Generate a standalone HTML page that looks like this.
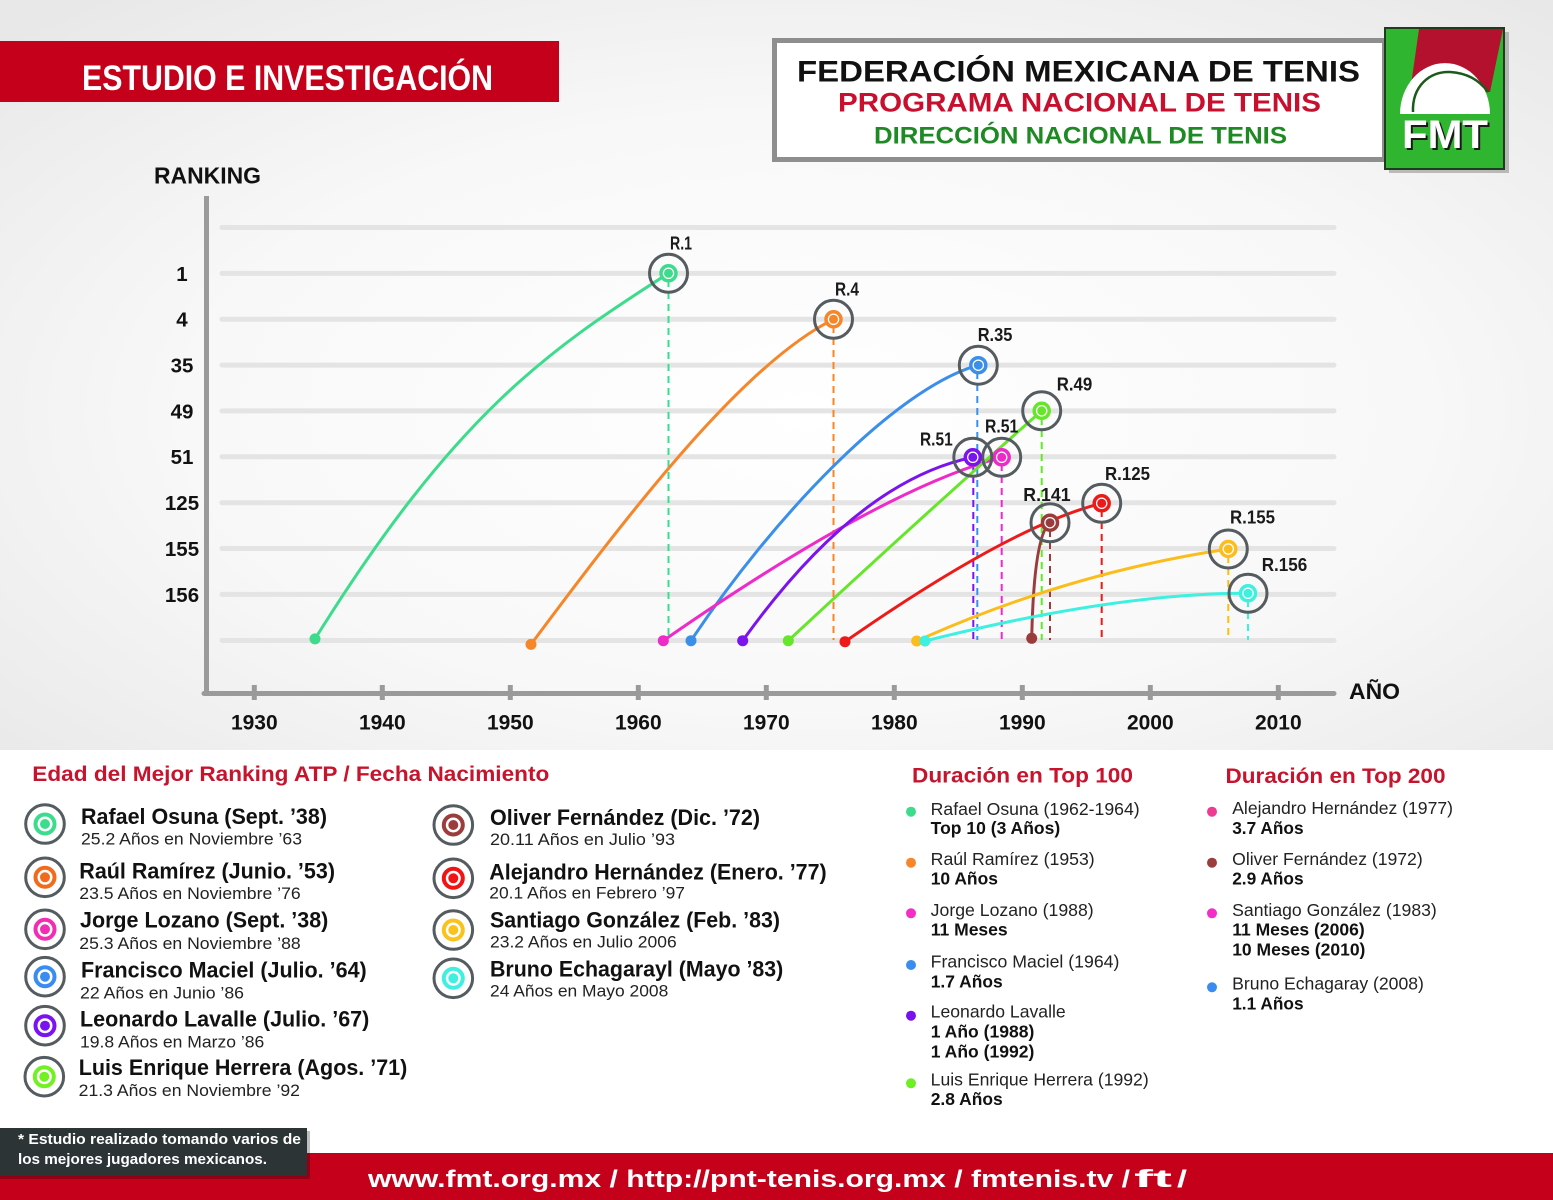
<!DOCTYPE html>
<html><head><meta charset="utf-8"><style>
html,body{margin:0;padding:0;background:#fff;}
svg{display:block;}
text{font-family:"Liberation Sans",Arial,sans-serif;}
</style></head><body>
<svg width="1553" height="1200" viewBox="0 0 1553 1200" xmlns="http://www.w3.org/2000/svg">
<defs>
<radialGradient id="bg" cx="0.52" cy="0.55" r="0.72">
<stop offset="0" stop-color="#ffffff"/>
<stop offset="0.55" stop-color="#f8f8f8"/>
<stop offset="1" stop-color="#e8e8e8"/>
</radialGradient>
</defs>
<rect x="0" y="0" width="1553" height="1200" fill="#ffffff"/>
<rect x="0" y="0" width="1553" height="750" fill="url(#bg)"/>

<!-- top-left red banner -->
<rect x="0" y="41" width="559" height="61" fill="#c4001a"/>
<text x="82" y="90" font-size="35" font-weight="bold" fill="#fff" textLength="411" lengthAdjust="spacingAndGlyphs">ESTUDIO E INVESTIGACIÓN</text>

<!-- header box -->
<rect x="777" y="43" width="610" height="119" fill="#b5b5b5" opacity="0.5"/>
<rect x="774.5" y="40.5" width="610" height="119" fill="#fff" stroke="#8e8e8e" stroke-width="5"/>
<text x="797" y="81.7" font-size="30" font-weight="bold" fill="#111" textLength="563" lengthAdjust="spacingAndGlyphs">FEDERACIÓN MEXICANA DE TENIS</text>
<text x="838" y="111.7" font-size="26.5" font-weight="bold" fill="#c8102e" textLength="483" lengthAdjust="spacingAndGlyphs">PROGRAMA NACIONAL DE TENIS</text>
<text x="874" y="143.3" font-size="24" font-weight="bold" fill="#1e8a23" textLength="413" lengthAdjust="spacingAndGlyphs">DIRECCIÓN NACIONAL DE TENIS</text>

<!-- logo -->
<rect x="1389" y="32" width="120" height="141" fill="#8a8a8a" opacity="0.55"/>
<rect x="1385" y="28" width="119" height="141" fill="#2fb52f" stroke="#1d3d1d" stroke-width="2"/>
<polygon points="1419,29 1503,29 1490,92 1410,92" fill="#b3112e"/>
<path d="M1400,114 A45,51 0 0 1 1490,114 Z" fill="#fff"/>
<path d="M1413,112 C1412,86 1430,71 1450,72 C1468,73 1480,81 1488,92" fill="none" stroke="#1a5a1a" stroke-width="2.5"/>
<text x="1404" y="150" font-size="40" font-weight="bold" fill="#1a1a1a" textLength="86" lengthAdjust="spacingAndGlyphs">FMT</text>
<text x="1402" y="148" font-size="40" font-weight="bold" fill="#fff" textLength="86" lengthAdjust="spacingAndGlyphs">FMT</text>

<!-- chart titles -->
<text x="154" y="183.3" font-size="23" font-weight="bold" fill="#111" textLength="107" lengthAdjust="spacingAndGlyphs">RANKING</text>
<text x="1349" y="699" font-size="22" font-weight="bold" fill="#111" textLength="51" lengthAdjust="spacingAndGlyphs">AÑO</text>

<!-- gridlines -->
<g stroke="#e4e4e4" stroke-width="5" stroke-linecap="round">
<line x1="222" y1="227.5" x2="1334" y2="227.5"/>
<line x1="222" y1="273.4" x2="1334" y2="273.4"/>
<line x1="222" y1="319.2" x2="1334" y2="319.2"/>
<line x1="222" y1="365.1" x2="1334" y2="365.1"/>
<line x1="222" y1="410.9" x2="1334" y2="410.9"/>
<line x1="222" y1="456.8" x2="1334" y2="456.8"/>
<line x1="222" y1="502.7" x2="1334" y2="502.7"/>
<line x1="222" y1="548.5" x2="1334" y2="548.5"/>
<line x1="222" y1="594.4" x2="1334" y2="594.4"/>
<line x1="222" y1="640.5" x2="1334" y2="640.5"/>
</g>

<!-- axes -->
<g stroke="#9a9a9a" stroke-width="5">
<line x1="206.5" y1="196" x2="206.5" y2="695"/>
<line x1="204" y1="693.5" x2="1334" y2="693.5" stroke-linecap="round"/>
<line x1="254.3" y1="685" x2="254.3" y2="700"/>
<line x1="382.3" y1="685" x2="382.3" y2="700"/>
<line x1="510.3" y1="685" x2="510.3" y2="700"/>
<line x1="638.3" y1="685" x2="638.3" y2="700"/>
<line x1="766.3" y1="685" x2="766.3" y2="700"/>
<line x1="894.3" y1="685" x2="894.3" y2="700"/>
<line x1="1022.3" y1="685" x2="1022.3" y2="700"/>
<line x1="1150.3" y1="685" x2="1150.3" y2="700"/>
<line x1="1278.3" y1="685" x2="1278.3" y2="700"/>
</g>

<!-- y labels -->
<g font-size="20.5" font-weight="bold" fill="#111" text-anchor="middle">
<text x="182" y="280.8">1</text>
<text x="182" y="326.6">4</text>
<text x="182" y="372.5">35</text>
<text x="182" y="418.3">49</text>
<text x="182" y="464.2">51</text>
<text x="182" y="510.1">125</text>
<text x="182" y="555.9">155</text>
<text x="182" y="601.8">156</text>
</g>
<!-- x labels -->
<g font-size="21" font-weight="bold" fill="#111" text-anchor="middle">
<text x="254.3" y="729.5">1930</text>
<text x="382.3" y="729.5">1940</text>
<text x="510.3" y="729.5">1950</text>
<text x="638.3" y="729.5">1960</text>
<text x="766.3" y="729.5">1970</text>
<text x="894.3" y="729.5">1980</text>
<text x="1022.3" y="729.5">1990</text>
<text x="1150.3" y="729.5">2000</text>
<text x="1278.3" y="729.5">2010</text>
</g>

<!-- dashed drop lines -->
<g stroke-width="2" stroke-dasharray="7 5" fill="none">
<line x1="668.5" y1="280" x2="668.5" y2="640" stroke="#3ddc8c"/>
<line x1="833.5" y1="326" x2="833.5" y2="640" stroke="#f5862a"/>
<line x1="977.3" y1="372" x2="977.3" y2="640" stroke="#3b8fe8"/>
<line x1="973.3" y1="464" x2="973.3" y2="640" stroke="#7a14ee"/>
<line x1="1001.7" y1="464" x2="1001.7" y2="640" stroke="#ee2ac8"/>
<line x1="1041.7" y1="418" x2="1041.7" y2="640" stroke="#66e62a"/>
<line x1="1050" y1="530" x2="1050" y2="640" stroke="#9a3c3c"/>
<line x1="1101.7" y1="510" x2="1101.7" y2="640" stroke="#ee1a1a"/>
<line x1="1228.3" y1="556" x2="1228.3" y2="640" stroke="#fbbd1c"/>
<line x1="1248" y1="600" x2="1248" y2="640" stroke="#3ef0e0"/>
</g>

<!-- curves -->
<g fill="none" stroke-width="3" stroke-linecap="round">
<path d="M315,638.9 C455,414 548,350 668.5,273.3" stroke="#3ddc8c"/>
<path d="M531,644.4 C631,510 743.5,364 833.5,319.3" stroke="#f5862a"/>
<path d="M691,640.7 C771,520 895,388 978.3,365.2" stroke="#3b8fe8"/>
<path d="M663.3,640.7 Q880,490 1001.7,457.3" stroke="#ee2ac8"/>
<path d="M742.7,640.7 Q857,481 972.8,457.3" stroke="#7a14ee"/>
<path d="M788.3,640.7 Q918,520 1041.7,410.8" stroke="#66e62a"/>
<path d="M845,641.7 Q1011,526 1101.7,503.3" stroke="#ee1a1a"/>
<path d="M1031.7,638.3 Q1034,535 1050,522.7" stroke="#9a3c3c"/>
<path d="M916.7,641 Q1068,573 1228.3,549" stroke="#fbbd1c"/>
<path d="M925,641 Q1117,593 1248,593.3" stroke="#3ef0e0"/>
</g>

<!-- start dots -->
<circle cx="315" cy="638.9" r="5.5" fill="#3ddc8c"/>
<circle cx="531" cy="644.4" r="5.5" fill="#f5862a"/>
<circle cx="663.3" cy="640.7" r="5.5" fill="#ee2ac8"/>
<circle cx="691" cy="640.7" r="5.5" fill="#3b8fe8"/>
<circle cx="742.7" cy="640.7" r="5.5" fill="#7a14ee"/>
<circle cx="788.3" cy="640.7" r="5.5" fill="#66e62a"/>
<circle cx="845" cy="641.7" r="5.5" fill="#ee1a1a"/>
<circle cx="1031.7" cy="638.3" r="5.5" fill="#9a3c3c"/>
<circle cx="916.7" cy="641" r="5.5" fill="#fbbd1c"/>
<circle cx="925" cy="641" r="5.5" fill="#3ef0e0"/>

<!-- markers -->
<g>
<circle cx="668.5" cy="273.3" r="19" fill="none" stroke="#555c60" stroke-width="3"/>
<circle cx="668.5" cy="273.3" r="7.5" fill="#fff" stroke="#3ddc8c" stroke-width="3.5"/>
<circle cx="668.5" cy="273.3" r="4.5" fill="#3ddc8c"/>

<circle cx="833.5" cy="319.3" r="19" fill="none" stroke="#555c60" stroke-width="3"/>
<circle cx="833.5" cy="319.3" r="7.5" fill="#fff" stroke="#f5862a" stroke-width="3.5"/>
<circle cx="833.5" cy="319.3" r="4.5" fill="#f5862a"/>

<circle cx="978.3" cy="365.2" r="19" fill="none" stroke="#555c60" stroke-width="3"/>
<circle cx="978.3" cy="365.2" r="7.5" fill="#fff" stroke="#3b8fe8" stroke-width="3.5"/>
<circle cx="978.3" cy="365.2" r="4.5" fill="#3b8fe8"/>

<circle cx="1041.7" cy="410.8" r="19" fill="none" stroke="#555c60" stroke-width="3"/>
<circle cx="1041.7" cy="410.8" r="7.5" fill="#fff" stroke="#66e62a" stroke-width="3.5"/>
<circle cx="1041.7" cy="410.8" r="4.5" fill="#66e62a"/>

<circle cx="1001.7" cy="457.3" r="19" fill="none" stroke="#555c60" stroke-width="3"/>
<circle cx="1001.7" cy="457.3" r="7.5" fill="#fff" stroke="#ee2ac8" stroke-width="3.5"/>
<circle cx="1001.7" cy="457.3" r="4.5" fill="#ee2ac8"/>

<circle cx="972.8" cy="457.3" r="19" fill="none" stroke="#555c60" stroke-width="3"/>
<circle cx="972.8" cy="457.3" r="7.5" fill="#fff" stroke="#7a14ee" stroke-width="3.5"/>
<circle cx="972.8" cy="457.3" r="4.5" fill="#7a14ee"/>

<circle cx="1101.7" cy="503.3" r="19" fill="none" stroke="#555c60" stroke-width="3"/>
<circle cx="1101.7" cy="503.3" r="7.5" fill="#fff" stroke="#ee1a1a" stroke-width="3.5"/>
<circle cx="1101.7" cy="503.3" r="4.5" fill="#ee1a1a"/>

<circle cx="1050" cy="522.7" r="19" fill="none" stroke="#555c60" stroke-width="3"/>
<circle cx="1050" cy="522.7" r="7.5" fill="#fff" stroke="#9a3c3c" stroke-width="3.5"/>
<circle cx="1050" cy="522.7" r="4.5" fill="#9a3c3c"/>

<circle cx="1228.3" cy="549" r="19" fill="none" stroke="#555c60" stroke-width="3"/>
<circle cx="1228.3" cy="549" r="7.5" fill="#fff" stroke="#fbbd1c" stroke-width="3.5"/>
<circle cx="1228.3" cy="549" r="4.5" fill="#fbbd1c"/>

<circle cx="1248" cy="593.3" r="19" fill="none" stroke="#555c60" stroke-width="3"/>
<circle cx="1248" cy="593.3" r="7.5" fill="#fff" stroke="#3ef0e0" stroke-width="3.5"/>
<circle cx="1248" cy="593.3" r="4.5" fill="#3ef0e0"/>
</g>

<!-- marker labels -->
<g font-size="18" font-weight="bold" fill="#1a1a1a">
<text x="670" y="249.3" textLength="22" lengthAdjust="spacingAndGlyphs">R.1</text>
<text x="835" y="295.3" textLength="24" lengthAdjust="spacingAndGlyphs">R.4</text>
<text x="977.7" y="341" textLength="34.7" lengthAdjust="spacingAndGlyphs">R.35</text>
<text x="1056.7" y="390.3" textLength="35.6" lengthAdjust="spacingAndGlyphs">R.49</text>
<text x="920" y="445.3" textLength="32.7" lengthAdjust="spacingAndGlyphs">R.51</text>
<text x="985" y="432.7" textLength="33.3" lengthAdjust="spacingAndGlyphs">R.51</text>
<text x="1023.3" y="501" textLength="47.4" lengthAdjust="spacingAndGlyphs">R.141</text>
<text x="1105" y="480" textLength="45" lengthAdjust="spacingAndGlyphs">R.125</text>
<text x="1230" y="523.3" textLength="45" lengthAdjust="spacingAndGlyphs">R.155</text>
<text x="1261.7" y="571" textLength="45.6" lengthAdjust="spacingAndGlyphs">R.156</text>
</g>

<!-- legend title -->
<text x="32.3" y="781" font-size="21.5" font-weight="bold" fill="#c8132d" textLength="517" lengthAdjust="spacingAndGlyphs">Edad del Mejor Ranking ATP / Fecha Nacimiento</text>
<text x="912" y="782.5" font-size="21.5" font-weight="bold" fill="#c8132d" textLength="221" lengthAdjust="spacingAndGlyphs">Duración en Top 100</text>
<text x="1225.5" y="783" font-size="21.5" font-weight="bold" fill="#c8132d" textLength="220" lengthAdjust="spacingAndGlyphs">Duración en Top 200</text>

<!-- legend icons -->
<g>
<circle cx="45" cy="824" r="19.3" fill="#fff" stroke="#555c60" stroke-width="3"/><circle cx="45" cy="824" r="9.5" fill="#fff" stroke="#3ddc8c" stroke-width="4"/><circle cx="45" cy="824" r="5" fill="#3ddc8c"/>
<circle cx="45" cy="877.3" r="19.3" fill="#fff" stroke="#555c60" stroke-width="3"/><circle cx="45" cy="877.3" r="9.5" fill="#fff" stroke="#f26a1b" stroke-width="4"/><circle cx="45" cy="877.3" r="5" fill="#f26a1b"/>
<circle cx="45" cy="929.3" r="19.3" fill="#fff" stroke="#555c60" stroke-width="3"/><circle cx="45" cy="929.3" r="9.5" fill="#fff" stroke="#f02db4" stroke-width="4"/><circle cx="45" cy="929.3" r="5" fill="#f02db4"/>
<circle cx="45" cy="976.7" r="19.3" fill="#fff" stroke="#555c60" stroke-width="3"/><circle cx="45" cy="976.7" r="9.5" fill="#fff" stroke="#3b8cf0" stroke-width="4"/><circle cx="45" cy="976.7" r="5" fill="#3b8cf0"/>
<circle cx="45" cy="1025.7" r="19.3" fill="#fff" stroke="#555c60" stroke-width="3"/><circle cx="45" cy="1025.7" r="9.5" fill="#fff" stroke="#7a12f2" stroke-width="4"/><circle cx="45" cy="1025.7" r="5" fill="#7a12f2"/>
<circle cx="44.3" cy="1076.7" r="19.3" fill="#fff" stroke="#555c60" stroke-width="3"/><circle cx="44.3" cy="1076.7" r="9.5" fill="#fff" stroke="#72f022" stroke-width="4"/><circle cx="44.3" cy="1076.7" r="5" fill="#72f022"/>

<circle cx="453.3" cy="825" r="19.3" fill="#fff" stroke="#555c60" stroke-width="3"/><circle cx="453.3" cy="825" r="9.5" fill="#fff" stroke="#9c3d3d" stroke-width="4"/><circle cx="453.3" cy="825" r="5" fill="#9c3d3d"/>
<circle cx="453.3" cy="878.3" r="19.3" fill="#fff" stroke="#555c60" stroke-width="3"/><circle cx="453.3" cy="878.3" r="9.5" fill="#fff" stroke="#f01414" stroke-width="4"/><circle cx="453.3" cy="878.3" r="5" fill="#f01414"/>
<circle cx="453.3" cy="930" r="19.3" fill="#fff" stroke="#555c60" stroke-width="3"/><circle cx="453.3" cy="930" r="9.5" fill="#fff" stroke="#fcc21c" stroke-width="4"/><circle cx="453.3" cy="930" r="5" fill="#fcc21c"/>
<circle cx="453.3" cy="978.3" r="19.3" fill="#fff" stroke="#555c60" stroke-width="3"/><circle cx="453.3" cy="978.3" r="9.5" fill="#fff" stroke="#3ff0e0" stroke-width="4"/><circle cx="453.3" cy="978.3" r="5" fill="#3ff0e0"/>
</g>

<!-- legend names -->
<g font-size="22" font-weight="bold" fill="#111">
<text x="81" y="824" textLength="246" lengthAdjust="spacingAndGlyphs">Rafael Osuna (Sept. ’38)</text>
<text x="79.3" y="878.3" textLength="255.7" lengthAdjust="spacingAndGlyphs">Raúl Ramírez (Junio. ’53)</text>
<text x="80" y="927.7" textLength="248.3" lengthAdjust="spacingAndGlyphs">Jorge Lozano (Sept. ’38)</text>
<text x="81" y="977.7" textLength="285.7" lengthAdjust="spacingAndGlyphs">Francisco Maciel (Julio. ’64)</text>
<text x="80" y="1026.7" textLength="289.3" lengthAdjust="spacingAndGlyphs">Leonardo Lavalle (Julio. ’67)</text>
<text x="78.7" y="1075" textLength="328.6" lengthAdjust="spacingAndGlyphs">Luis Enrique Herrera (Agos. ’71)</text>
<text x="490" y="825" textLength="270" lengthAdjust="spacingAndGlyphs">Oliver Fernández (Dic. ’72)</text>
<text x="489.3" y="879.3" textLength="337.4" lengthAdjust="spacingAndGlyphs">Alejandro Hernández (Enero. ’77)</text>
<text x="490" y="927.7" textLength="290" lengthAdjust="spacingAndGlyphs">Santiago González (Feb. ’83)</text>
<text x="490" y="976.7" textLength="293.3" lengthAdjust="spacingAndGlyphs">Bruno Echagarayl (Mayo ’83)</text>
</g>
<g font-size="17" fill="#222">
<text x="81" y="844.3" textLength="221" lengthAdjust="spacingAndGlyphs">25.2 Años en Noviembre ’63</text>
<text x="79.3" y="899" textLength="221.4" lengthAdjust="spacingAndGlyphs">23.5 Años en Noviembre ’76</text>
<text x="79.3" y="949" textLength="221.4" lengthAdjust="spacingAndGlyphs">25.3 Años en Noviembre ’88</text>
<text x="80" y="998.3" textLength="164" lengthAdjust="spacingAndGlyphs">22 Años en Junio ’86</text>
<text x="80" y="1047.7" textLength="184.3" lengthAdjust="spacingAndGlyphs">19.8 Años en Marzo ’86</text>
<text x="78.7" y="1096" textLength="221.3" lengthAdjust="spacingAndGlyphs">21.3 Años en Noviembre ’92</text>
<text x="490" y="845" textLength="185" lengthAdjust="spacingAndGlyphs">20.11 Años en Julio  ’93</text>
<text x="489.3" y="898.3" textLength="195.7" lengthAdjust="spacingAndGlyphs">20.1 Años en Febrero ’97</text>
<text x="490" y="947.3" textLength="186.7" lengthAdjust="spacingAndGlyphs">23.2 Años en Julio 2006</text>
<text x="490" y="996.7" textLength="178.3" lengthAdjust="spacingAndGlyphs">24 Años en Mayo 2008</text>
</g>

<!-- Top 100 list -->
<circle cx="911" cy="811.7" r="5" fill="#3ddc8c"/>
<circle cx="911" cy="862.7" r="5" fill="#f5862a"/>
<circle cx="911" cy="913.3" r="5" fill="#f52cc8"/>
<circle cx="911" cy="965" r="5" fill="#3b8cf0"/>
<circle cx="911" cy="1015.7" r="5" fill="#7a10f0"/>
<circle cx="911" cy="1083.3" r="5" fill="#6cf023"/>
<g font-size="17.5" fill="#222">
<text x="930.7" y="815" textLength="209" lengthAdjust="spacingAndGlyphs">Rafael Osuna (1962-1964)</text>
<text x="930.7" y="865" textLength="164" lengthAdjust="spacingAndGlyphs">Raúl Ramírez (1953)</text>
<text x="930.7" y="916" textLength="163" lengthAdjust="spacingAndGlyphs">Jorge Lozano (1988)</text>
<text x="930.7" y="967.3" textLength="188.7" lengthAdjust="spacingAndGlyphs">Francisco Maciel (1964)</text>
<text x="930.7" y="1017.7" textLength="135" lengthAdjust="spacingAndGlyphs">Leonardo Lavalle</text>
<text x="930.7" y="1085.7" textLength="218" lengthAdjust="spacingAndGlyphs">Luis Enrique Herrera (1992)</text>
</g>
<g font-size="17.5" font-weight="bold" fill="#111">
<text x="930.7" y="834" textLength="129.5" lengthAdjust="spacingAndGlyphs">Top 10 (3 Años)</text>
<text x="930.7" y="884.3" textLength="67.3" lengthAdjust="spacingAndGlyphs">10 Años</text>
<text x="930.7" y="935.7" textLength="77" lengthAdjust="spacingAndGlyphs">11 Meses</text>
<text x="930.7" y="987.3" textLength="72" lengthAdjust="spacingAndGlyphs">1.7 Años</text>
<text x="930.7" y="1037.7" textLength="103.6" lengthAdjust="spacingAndGlyphs">1 Año (1988)</text>
<text x="930.7" y="1057.3" textLength="103.6" lengthAdjust="spacingAndGlyphs">1 Año (1992)</text>
<text x="930.7" y="1105" textLength="72" lengthAdjust="spacingAndGlyphs">2.8 Años</text>
</g>

<!-- Top 200 list -->
<circle cx="1212" cy="811.7" r="5" fill="#ee3a93"/>
<circle cx="1212" cy="862.7" r="5" fill="#9c3d3d"/>
<circle cx="1212" cy="913.3" r="5" fill="#f52cc8"/>
<circle cx="1212" cy="987.3" r="5" fill="#3b8cf0"/>
<g font-size="17.5" fill="#222">
<text x="1232.2" y="814" textLength="220.8" lengthAdjust="spacingAndGlyphs">Alejandro Hernández (1977)</text>
<text x="1232.2" y="865" textLength="190.5" lengthAdjust="spacingAndGlyphs">Oliver Fernández (1972)</text>
<text x="1232.2" y="916" textLength="204.6" lengthAdjust="spacingAndGlyphs">Santiago González (1983)</text>
<text x="1232.2" y="989.3" textLength="191.7" lengthAdjust="spacingAndGlyphs">Bruno Echagaray (2008)</text>
</g>
<g font-size="17.5" font-weight="bold" fill="#111">
<text x="1232.2" y="834" textLength="71.4" lengthAdjust="spacingAndGlyphs">3.7 Años</text>
<text x="1232.2" y="884.3" textLength="71.4" lengthAdjust="spacingAndGlyphs">2.9 Años</text>
<text x="1232.2" y="935.7" textLength="132.5" lengthAdjust="spacingAndGlyphs">11 Meses (2006)</text>
<text x="1232.2" y="955.3" textLength="133.2" lengthAdjust="spacingAndGlyphs">10 Meses (2010)</text>
<text x="1232.2" y="1009.3" textLength="71.4" lengthAdjust="spacingAndGlyphs">1.1 Años</text>
</g>

<!-- footer -->
<rect x="0" y="1153" width="1553" height="47" fill="#c4001a"/>
<rect x="0" y="1131" width="310" height="48" fill="#000" opacity="0.25"/>
<rect x="0" y="1128" width="307" height="48" fill="#2c3436"/>
<g font-size="15" font-weight="bold" fill="#fff">
<text x="18" y="1144" textLength="283" lengthAdjust="spacingAndGlyphs">* Estudio realizado tomando varios de</text>
<text x="18" y="1164" textLength="249" lengthAdjust="spacingAndGlyphs">los mejores jugadores mexicanos.</text>
</g>
<g font-size="24" font-weight="bold" fill="#fff">
<text x="368" y="1187" textLength="762" lengthAdjust="spacingAndGlyphs">www.fmt.org.mx / http://pnt-tenis.org.mx / fmtenis.tv /</text>
<text x="1134" y="1187" font-size="25" textLength="38" lengthAdjust="spacingAndGlyphs">ft</text>
<text x="1177" y="1187" textLength="10" lengthAdjust="spacingAndGlyphs">/</text>
</g>
</svg>
</body></html>
